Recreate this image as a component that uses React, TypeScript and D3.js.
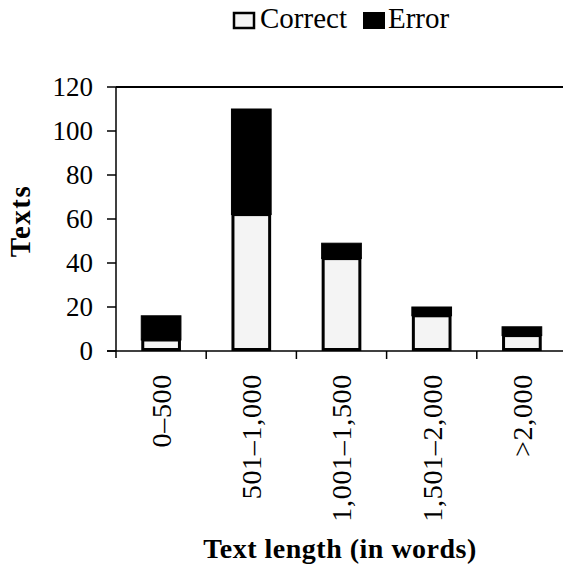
import React from "react";
import * as d3 from "d3";

const categories = ["0–500", "501–1,000", "1,001–1,500", "1,501–2,000", ">2,000"];
const correctValues = [5, 62, 42, 16, 7];
const errorValues = [11, 48, 7, 4, 4];
const yTicks = [0, 20, 40, 60, 80, 100, 120];
const seriesNames = ["Correct", "Error"];

const W = 563;
const H = 569;
const FONT = "'Liberation Serif', 'Times New Roman', serif";

export default function App() {
  const left = 116;
  const right = 567;
  const top = 87;
  const bottom = 351;

  const y = d3.scaleLinear().domain([0, 120]).range([bottom, top]);
  const xb = d3.scaleBand<string>().domain(categories).range([left, right]).padding(0);
  const xbar = d3
    .scaleBand<string>()
    .domain(categories)
    .range([left, right])
    .paddingInner(0.56)
    .paddingOuter(0.28);

  const boundaries = categories.map((c) => xb(c) as number).concat([right]);

  return (
    <svg
      width={W}
      height={H}
      style={{ position: "absolute", left: 0, top: 0, background: "#fff" }}
      fontFamily={FONT}
    >
      <rect x={0} y={0} width={W} height={H} fill="#fff" />
      {/* legend */}
      <g>
        <rect x={234} y={13} width={20} height={15} fill="#f4f4f4" stroke="#000" strokeWidth={2.5} />
        <text x={260} y={28} fontSize={29} fill="#000">{seriesNames[0]}</text>
        <rect x={363} y={12} width={22} height={17} fill="#000" />
        <text x={388} y={28} fontSize={29} fill="#000">{seriesNames[1]}</text>
      </g>

      {/* top frame line */}
      <line x1={left} x2={W} y1={top} y2={top} stroke="#000" strokeWidth={1.8} />

      {/* bars */}
      {categories.map((c, i) => {
        const x0 = xbar(c) as number;
        const bw = xbar.bandwidth();
        const c0 = correctValues[i];
        const e0 = errorValues[i];
        return (
          <g key={c}>
            <rect
              x={x0}
              y={y(c0 + e0)}
              width={bw}
              height={y(c0) - y(c0 + e0)}
              fill="#000"
              stroke="#000"
              strokeWidth={1}
            />
            <rect
              x={x0 + 1.5}
              y={y(c0)}
              width={bw - 3}
              height={y(0) - y(c0) - 1.5}
              fill="#f4f4f4"
              stroke="#000"
              strokeWidth={3}
            />
          </g>
        );
      })}

      {/* y axis */}
      <line x1={left} x2={left} y1={top} y2={bottom + 7} stroke="#000" strokeWidth={1.5} />
      {yTicks.map((t) => (
        <g key={t}>
          <line x1={left - 9} x2={left} y1={y(t)} y2={y(t)} stroke="#000" strokeWidth={1.5} />
          <text
            x={93}
            y={y(t)}
            dy="0.35em"
            textAnchor="end"
            fontSize={27}
            fill="#000"
          >
            {t}
          </text>
        </g>
      ))}

      {/* x axis */}
      <line x1={left - 9} x2={W} y1={bottom} y2={bottom} stroke="#000" strokeWidth={1.5} />
      {boundaries.slice(1, -1).map((bx, i) => (
        <line key={i} x1={bx} x2={bx} y1={bottom} y2={bottom + 8} stroke="#000" strokeWidth={1.5} />
      ))}
      {categories.map((c) => {
        const cx = (xb(c) as number) + xb.bandwidth() / 2;
        return (
          <text
            key={c}
            transform={`translate(${cx},374) rotate(-90)`}
            dy="0.35em"
            textAnchor="end"
            fontSize={28}
            letterSpacing={0.7}
            fill="#000"
          >
            {c}
          </text>
        );
      })}

      {/* axis titles */}
      <text
        x={340}
        y={558}
        textAnchor="middle"
        fontSize={28}
        fontWeight="bold"
        letterSpacing={0.5}
        fill="#000"
      >
        Text length (in words)
      </text>
      <text
        transform={`translate(20,221) rotate(-90)`}
        dy="0.35em"
        textAnchor="middle"
        fontSize={29}
        fontWeight="bold"
        letterSpacing={1.5}
        fill="#000"
      >
        Texts
      </text>
    </svg>
  );
}
